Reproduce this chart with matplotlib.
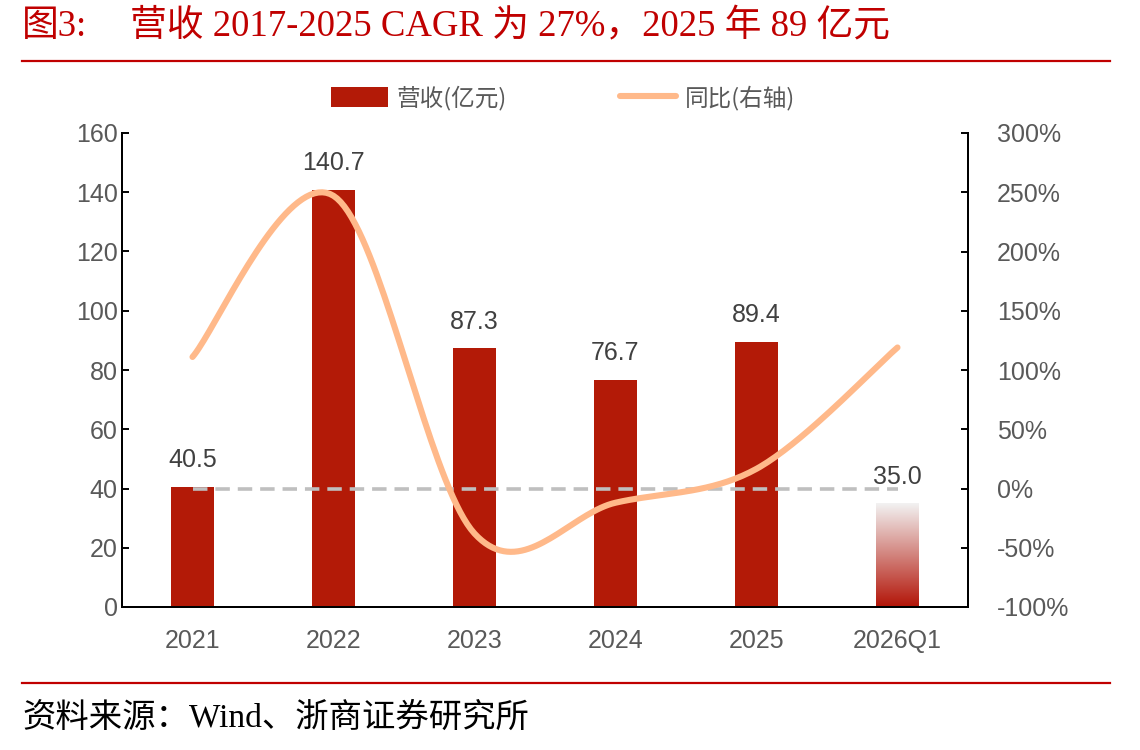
import numpy as np
import matplotlib
matplotlib.use("Agg")
import matplotlib.pyplot as plt
from matplotlib.patches import Patch
from matplotlib.lines import Line2D

# data
years = ['2021', '2022', '2023', '2024', '2025', '2026Q1']
revenue = [40.5, 140.7, 87.3, 76.7, 89.4, 35.0]
yoy = [111, 247, -38, -12, 16.6, 119]   # %
left_ticks = [0, 20, 40, 60, 80, 100, 120, 140, 160]
right_ticks = [-100, -50, 0, 50, 100, 150, 200, 250, 300]

RED = '#B31A07'
ORANGE = '#FFB98A'
GREY_TXT = '#595959'
LAT = ['Liberation Sans', 'Noto Sans CJK SC']
SERIF = ['Liberation Serif', 'Noto Sans CJK SC']


def catmull_rom(xs, ys, n=40):
    """Smooth line through points (like Excel's smoothed line)."""
    xs = np.asarray(xs, float)
    ys = np.asarray(ys, float)
    px = np.concatenate([[xs[0]], xs, [xs[-1]]])
    py = np.concatenate([[ys[0]], ys, [ys[-1]]])
    ox, oy = [], []
    for i in range(1, len(px) - 2):
        p0 = np.array([px[i - 1], py[i - 1]])
        p1 = np.array([px[i], py[i]])
        p2 = np.array([px[i + 1], py[i + 1]])
        p3 = np.array([px[i + 2], py[i + 2]])
        c1 = p1 + (p2 - p0) / 6
        c2 = p2 - (p3 - p1) / 6
        t = np.linspace(0, 1, n)[:, None]
        b = (1 - t) ** 3 * p1 + 3 * (1 - t) ** 2 * t * c1 + 3 * (1 - t) * t ** 2 * c2 + t ** 3 * p2
        ox.extend(b[:, 0])
        oy.extend(b[:, 1])
    return np.array(ox), np.array(oy)


fig = plt.figure(figsize=(11.4, 7.5), dpi=100)
ax = fig.add_axes([122 / 1140, 1 - 607 / 750, (968 - 122) / 1140, (607 - 133) / 750])
ax2 = ax.twinx()

x = np.arange(len(years))
w = 0.3
bars = ax.bar(x[:-1], revenue[:-1], width=w, color=RED, zorder=2)

# gradient bar for the last period
grad = np.linspace(0, 1, 256)[:, None]
c_bot = np.array([0.70, 0.08, 0.03])
c_top = np.array([0.95, 0.95, 0.95])
img = c_bot[None, None, :] * (1 - grad[:, :, None]) + c_top[None, None, :] * grad[:, :, None]
ax.imshow(img, extent=[x[-1] - w / 2, x[-1] + w / 2, 0, revenue[-1]],
          origin='lower', aspect='auto', zorder=2)

for xi, v in zip(x, revenue):
    ax.text(xi, v + 5, f'{v:.1f}', ha='center', va='bottom', fontsize=18,
            color='#404040', family=LAT)

ax.set_xlim(-0.5, len(years) - 0.5)
ax.set_ylim(0, 160)
ax.set_yticks(left_ticks)
ax.set_xticks(x)
ax.set_xticklabels(years)

# right axis: yoy
ax2.plot([x[0], x[-1]], [0, 0], color='#BFBFBF', lw=2.6, ls=(0, (4, 2.2)), zorder=3)
sx, sy = catmull_rom(x, yoy)
ax2.plot(sx, sy, color=ORANGE, lw=4.4, solid_capstyle='round', zorder=4)
ax2.set_ylim(-100, 300)
ax2.set_yticks(right_ticks)
ax2.set_yticklabels([f'{t}%' for t in right_ticks])

for a in (ax, ax2):
    a.spines['top'].set_visible(False)
    for s in ('left', 'right', 'bottom'):
        a.spines[s].set_linewidth(1.4)
        a.spines[s].set_color('black')
    a.patch.set_visible(False)
    for lab in a.get_yticklabels() + a.get_xticklabels():
        lab.set_family(LAT)
ax.tick_params(axis='y', direction='in', length=5, width=1.4, pad=3,
               labelsize=18, labelcolor=GREY_TXT)
ax.tick_params(axis='x', length=0, pad=16, labelsize=18, labelcolor=GREY_TXT)
ax2.tick_params(axis='y', direction='in', length=5, width=1.4, pad=21,
                labelsize=18, labelcolor=GREY_TXT)
for lab in ax2.get_yticklabels():
    lab.set_horizontalalignment('left')

# legend
handles = [Patch(facecolor=RED, edgecolor='none'),
           Line2D([0], [0], color=ORANGE, lw=4.4, solid_capstyle='round')]
fig.legend(handles, ['营收(亿元)', '同比(右轴)'], loc='center',
           bbox_to_anchor=(563 / 1140, 1 - 98 / 750), ncol=2, frameon=False,
           prop={'family': ['Noto Sans CJK SC'], 'size': 17},
           labelcolor=GREY_TXT, handlelength=2.4, handleheight=0.9,
           handletextpad=0.35, columnspacing=4.8)

# title, rules and source
fig.text(22 / 1140, 1 - 27 / 750, '图3:', color='#C00000', fontsize=26.5,
         family=SERIF, va='center', ha='left')
fig.text(130 / 1140, 1 - 27 / 750, '营收 2017-2025 CAGR 为 27%，2025 年 89 亿元',
         color='#C00000', fontsize=26.5, family=SERIF, va='center', ha='left')
fig.add_artist(Line2D([22 / 1140, 1110 / 1140], [1 - 61 / 750] * 2,
                      color='#C00000', lw=1.6, transform=fig.transFigure))
fig.add_artist(Line2D([22 / 1140, 1110 / 1140], [1 - 683 / 750] * 2,
                      color='#C00000', lw=1.6, transform=fig.transFigure))
fig.text(22 / 1140, 1 - 718 / 750, '资料来源：Wind、浙商证券研究所', color='black',
         fontsize=24, family=SERIF, va='center', ha='left')

fig.savefig('out.png', dpi=100)
